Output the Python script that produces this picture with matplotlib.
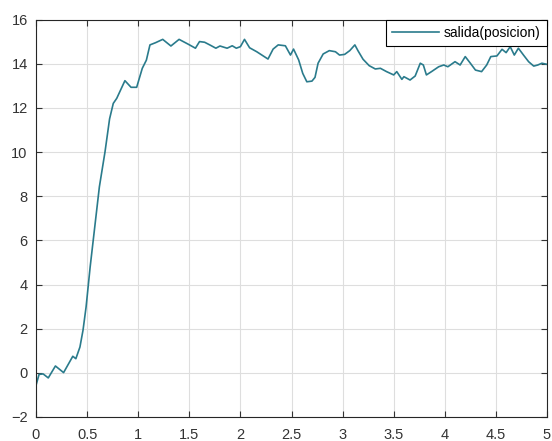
import matplotlib
matplotlib.use("Agg")
import matplotlib.pyplot as plt

plt.rcParams['font.family'] = ['Liberation Sans', 'DejaVu Sans']

t = [0, 0.03, 0.07, 0.12, 0.19, 0.27, 0.36, 0.39, 0.43, 0.46, 0.49, 0.53, 0.62, 0.675, 0.72,
     0.756, 0.79, 0.87, 0.93, 0.985, 1.04, 1.08, 1.115, 1.17, 1.24, 1.32, 1.40, 1.49, 1.56, 1.60,
     1.65, 1.70, 1.76, 1.80, 1.87, 1.92, 1.96, 2.0, 2.04, 2.09, 2.16, 2.22, 2.27, 2.32, 2.37,
     2.44, 2.49, 2.52, 2.57, 2.61, 2.65, 2.70, 2.73, 2.76, 2.81, 2.87, 2.93, 2.97, 3.02, 3.07,
     3.12, 3.15, 3.20, 3.26, 3.32, 3.37, 3.43, 3.50, 3.53, 3.58, 3.60, 3.66, 3.71, 3.76, 3.79,
     3.82, 3.87, 3.94, 3.99, 4.03, 4.10, 4.15, 4.20, 4.25, 4.30, 4.36, 4.41, 4.45, 4.51, 4.56,
     4.60, 4.64, 4.68, 4.72, 4.77, 4.82, 4.87, 4.91, 4.95, 5.0]
salida = [-0.57, -0.07, -0.05, -0.23, 0.31, 0.01, 0.75, 0.64, 1.17, 1.93, 2.98, 4.8, 8.42, 10.0,
          11.5, 12.2, 12.43, 13.23, 12.93, 12.93, 13.79, 14.16, 14.85, 14.95, 15.1, 14.8, 15.1,
          14.88, 14.7, 15.0, 14.97, 14.85, 14.7, 14.8, 14.7, 14.81, 14.7, 14.77, 15.1, 14.72,
          14.54, 14.36, 14.21, 14.66, 14.85, 14.81, 14.39, 14.66, 14.17, 13.56, 13.18, 13.21,
          13.38, 14.02, 14.44, 14.59, 14.54, 14.39, 14.42, 14.59, 14.85, 14.59, 14.2, 13.91,
          13.76, 13.79, 13.64, 13.49, 13.64, 13.29, 13.41, 13.26, 13.44, 14.02, 13.94, 13.49,
          13.64, 13.86, 13.94, 13.86, 14.09, 13.94, 14.32, 14.02, 13.71, 13.64, 13.94, 14.32,
          14.35, 14.65, 14.5, 14.77, 14.39, 14.7, 14.39, 14.09, 13.89, 13.94, 14.02, 13.97]

xticks = [0, 0.5, 1, 1.5, 2, 2.5, 3, 3.5, 4, 4.5, 5]
xticklabels = ['0', '0.5', '1', '1.5', '2', '2.5', '3', '3.5', '4', '4.5', '5']
yticks = [-2, 0, 2, 4, 6, 8, 10, 12, 14, 16]

fig = plt.figure(figsize=(5.52, 4.41), dpi=100)
ax = fig.add_axes([36/552, 1 - 417/441, (547 - 36)/552, (417 - 19.5)/441])

ax.plot(t, salida, color='#2a7b8c', linewidth=1.2, label='salida(posicion)')

ax.set_xlim(0, 5)
ax.set_ylim(-2, 16)
ax.set_xticks(xticks)
ax.set_xticklabels(xticklabels)
ax.set_yticks(yticks)

ax.grid(True, color='#dedede', linewidth=0.8)
ax.set_axisbelow(True)
for s in ax.spines.values():
    s.set_color('#262626')
    s.set_linewidth(0.8)
ax.tick_params(direction='in', top=True, right=True, length=4, width=0.8,
               colors='#333333', labelsize=10.5)
ax.tick_params(axis='x', pad=8)
ax.tick_params(axis='y', pad=6)

leg = ax.legend(loc='upper right', borderaxespad=0, fancybox=False, framealpha=1,
                edgecolor='black', fontsize=10, handlelength=3.4, handletextpad=0.35,
                borderpad=0.45)
leg.get_frame().set_linewidth(0.8)

fig.savefig('out.png', dpi=100)
